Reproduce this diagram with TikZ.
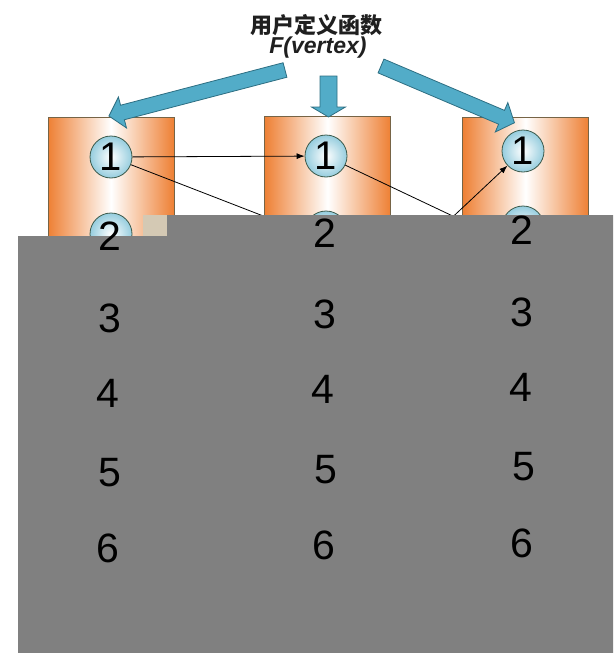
\documentclass[tikz,border=0pt]{standalone}
\usepackage{fontspec}
\setmainfont{Liberation Sans}
\newfontfamily\cjk{Noto Sans CJK SC}
\usetikzlibrary{arrows.meta,calc}
\definecolor{colorange}{RGB}{238,128,52}
\definecolor{colborder}{RGB}{118,100,70}
\definecolor{circblue}{RGB}{150,205,222}
\definecolor{circborder}{RGB}{60,90,75}
\definecolor{arrowfill}{RGB}{82,172,200}
\definecolor{arrowdraw}{RGB}{45,110,130}
\definecolor{greyfill}{RGB}{128,128,128}
\definecolor{beige}{RGB}{212,201,180}
\begin{document}
\begin{tikzpicture}[x=1pt,y=1pt,
  colbox/.style={draw=colborder, line width=0.8pt, minimum width=126pt, minimum height=480pt,
    anchor=north, inner sep=0pt, left color=colorange, right color=colorange, middle color=white},
  circ/.style={circle, draw=circborder, line width=0.8pt, minimum size=42pt, inner sep=0pt,
    inner color=white, outer color=circblue, font=\fontsize{40}{40}\selectfont},
  conn/.style={-{Latex[length=8pt,width=6pt]}, line width=0.8pt, black},
  digit/.style={inner sep=0pt, font=\fontsize{41}{41}\selectfont, text=black},
  blockarrow/.style={fill=arrowfill, draw=arrowdraw, line width=0.8pt, line join=miter}
]
\useasboundingbox (0,0) rectangle (613,-653);

% columns
\node[colbox] (colA) at (111,-117) {};
\node[colbox] (colB) at (327.5,-116) {};
\node[colbox] (colC) at (525.5,-117) {};

% circles
\node[circ] (a1) at (111,-157) {1};
\node[circ] (b1) at (326,-156) {1};
\node[circ] (c1) at (523,-151) {1};
\node[circ] (a2) at (111,-234) {};
\node[circ] (b2) at (326,-232) {};
\node[circ] (c2) at (523,-227) {};

% hidden ends
\coordinate (m3) at (345,-318);
\coordinate (q) at (300,-300);

% connectors
\draw[conn] (a1) -- (b1);
\draw[conn] (a1) -- (b2.west);
\draw[conn] (b1) -- (c2.south west);
\draw[conn] (m3) -- (c1);
\draw[conn] (a2) -- (q);

% grey cover
\fill[greyfill] (18,-236) -- (167,-236) -- (167,-215) -- (613,-215) -- (613,-653) -- (18,-653) -- cycle;
\fill[beige] (143,-215) rectangle (167,-236);

% digits
\node[digit] (ta2) at (110,-236) {2};
\node[digit] (ta3) at (110,-318) {3};
\node[digit] (ta4) at (108,-393) {4};
\node[digit] (ta5) at (110,-473) {5};
\node[digit] (ta6) at (108,-548) {6};
\node[digit] (tb2) at (325,-233) {2};
\node[digit] (tb3) at (325,-314) {3};
\node[digit] (tb4) at (323,-389) {4};
\node[digit] (tb5) at (326,-470) {5};
\node[digit] (tb6) at (324,-545) {6};
\node[digit] (tc2) at (522,-230) {2};
\node[digit] (tc3) at (522,-312) {3};
\node[digit] (tc4) at (521,-387) {4};
\node[digit] (tc5) at (524,-467) {5};
\node[digit] (tc6) at (522,-543) {6};

% block arrows
\draw[blockarrow, shift={(285,-70)}, rotate=194.65]
  (0,-7.5) -- (168,-7.5) -- (168,-16) -- (182,0) -- (168,16) -- (168,7.5) -- (0,7.5) -- cycle;
\draw[blockarrow, shift={(381,-66)}, rotate=-23.04]
  (0,-7.5) -- (131,-7.5) -- (131,-16) -- (145,0) -- (131,16) -- (131,7.5) -- (0,7.5) -- cycle;
\draw[blockarrow, shift={(328.5,-76)}, rotate=-90]
  (0,-8.5) -- (31,-8.5) -- (31,-17) -- (41,0) -- (31,17) -- (31,8.5) -- (0,8.5) -- cycle;

% title
\node[anchor=base, inner sep=0pt, text=black!88, font=\fontsize{22}{22}\selectfont] (title) at (316,-33.5) {\cjk\bfseries 用户定义函数};
\node[anchor=base, inner sep=0pt, text=black!88, font=\fontsize{23}{23}\selectfont] (fv) at (318,-53) {\bfseries\itshape F(vertex)};
\end{tikzpicture}
\end{document}
